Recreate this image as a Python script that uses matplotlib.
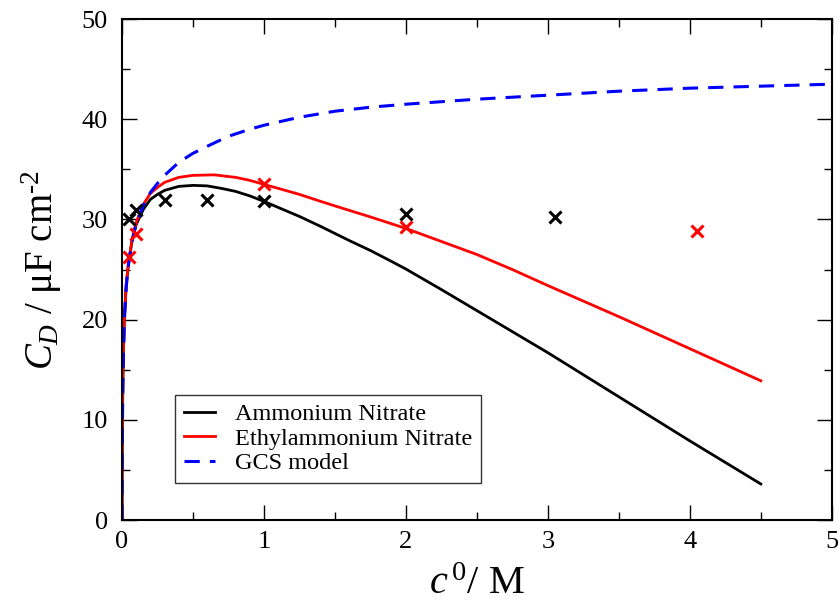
import matplotlib
matplotlib.use('Agg')
import matplotlib.pyplot as plt
from matplotlib.ticker import MultipleLocator

plt.rcParams['font.family'] = 'Liberation Serif'
plt.rcParams['mathtext.fontset'] = 'custom'
plt.rcParams['mathtext.rm'] = 'Liberation Serif'
plt.rcParams['mathtext.it'] = 'Liberation Serif:italic'

# titik eksperimen
an_x = [0.05, 0.1, 0.3, 0.6, 1.0, 2.0, 3.05]
an_y = [30.0, 30.9, 31.9, 31.9, 31.8, 30.5, 30.2]
ean_x = [0.05, 0.1, 1.0, 2.0, 4.05]
ean_y = [26.3, 28.5, 33.5, 29.2, 28.8]

# kurva model
an_cx = [0, 0.001, 0.003, 0.007, 0.016, 0.03, 0.045, 0.07, 0.1, 0.15, 0.2, 0.25, 0.3, 0.4, 0.5,
         0.6, 0.7, 0.8, 0.9, 1.0, 1.1, 1.25, 1.4, 1.5, 1.6, 1.75, 1.9, 2.0, 2.25, 2.5, 2.75, 3.0,
         3.5, 4.0, 4.5]
an_cy = [0, 5, 10, 15, 20, 23.5, 25.5, 27.8, 29.5, 31.0, 32.0, 32.5, 32.9, 33.3, 33.4,
         33.35, 33.1, 32.8, 32.35, 31.8, 31.2, 30.3, 29.3, 28.6, 27.9, 26.9, 25.8, 25.05, 23.0, 20.9, 18.8, 16.7,
         12.3, 7.9, 3.6]
ean_cx = [0, 0.001, 0.003, 0.007, 0.016, 0.03, 0.045, 0.07, 0.1, 0.15, 0.2, 0.25, 0.3, 0.4, 0.5,
          0.65, 0.8, 0.9, 1.0, 1.1, 1.25, 1.4, 1.5, 1.75, 2.0, 2.25, 2.5, 2.75, 3.0, 3.5, 4.0, 4.5]
ean_cy = [0, 5, 10, 15, 20, 23.6, 25.6, 27.9, 29.7, 31.5, 32.6, 33.2, 33.7, 34.2, 34.4,
          34.45, 34.2, 33.9, 33.5, 33.1, 32.5, 31.8, 31.35, 30.25, 29.1, 27.8, 26.5, 25.0, 23.4, 20.3, 17.1, 13.9]
gcs_x = [0, 0.001, 0.003, 0.007, 0.016, 0.03, 0.045, 0.07, 0.1, 0.15, 0.2, 0.25, 0.3, 0.4, 0.5,
         0.6, 0.75, 0.9, 1.0, 1.25, 1.5, 1.75, 2.0, 2.5, 3.0, 3.5, 4.0, 4.5, 5.0]
gcs_y = [0, 4.5, 9.5, 14.5, 19.8, 23.3, 25.4, 27.8, 29.6, 31.4, 32.7, 33.6, 34.4, 35.7, 36.6,
         37.3, 38.3, 39.0, 39.4, 40.2, 40.8, 41.2, 41.5, 42.0, 42.4, 42.8, 43.1, 43.3, 43.5]

fig = plt.figure(figsize=(8.38, 6.14), dpi=100)
ax = fig.add_axes([0.1456, 0.153, 0.847, 0.816])

ax.plot(an_cx, an_cy, color='black', lw=2, label='Ammonium Nitrate')
ax.plot(ean_cx, ean_cy, color='red', lw=2, label='Ethylammonium Nitrate')
ax.plot(gcs_x, gcs_y, color='blue', lw=2.2, dashes=(5, 3.3), label='GCS model')

ax.plot(an_x, an_y, ls='none', marker='x', ms=8, mew=2.2, color='black')
ax.plot(ean_x, ean_y, ls='none', marker='x', ms=8, mew=2.2, color='red')

ax.set_xlim(0, 5)
ax.set_ylim(0, 50)
ax.xaxis.set_major_locator(MultipleLocator(1))
ax.xaxis.set_minor_locator(MultipleLocator(0.5))
ax.yaxis.set_major_locator(MultipleLocator(10))
ax.yaxis.set_minor_locator(MultipleLocator(5))
ax.tick_params(which='both', direction='in', top=True, right=True, width=1, labelsize=19)
ax.tick_params(which='major', length=11)
ax.tick_params(which='minor', length=6)
ax.tick_params(axis='x', pad=8)
ax.tick_params(axis='y', pad=10)
for s in ax.spines.values():
    s.set_linewidth(1.5)

ax.set_xlabel(r'$c^{\,0}$/ M', fontsize=29, labelpad=9)
ax.set_ylabel(r'$C_D$ / μF cm$^{\text{-2}}$', fontsize=28, labelpad=13)

leg = ax.legend(loc='lower left', bbox_to_anchor=(0.058, 0.05), fontsize=17.5,
                handlelength=1.3, frameon=True, fancybox=False, borderpad=0.35,
                labelspacing=0.1, handletextpad=0.8)
leg.get_frame().set_edgecolor('black')
leg.get_frame().set_linewidth(1)

fig.savefig('out.png', dpi=100)
